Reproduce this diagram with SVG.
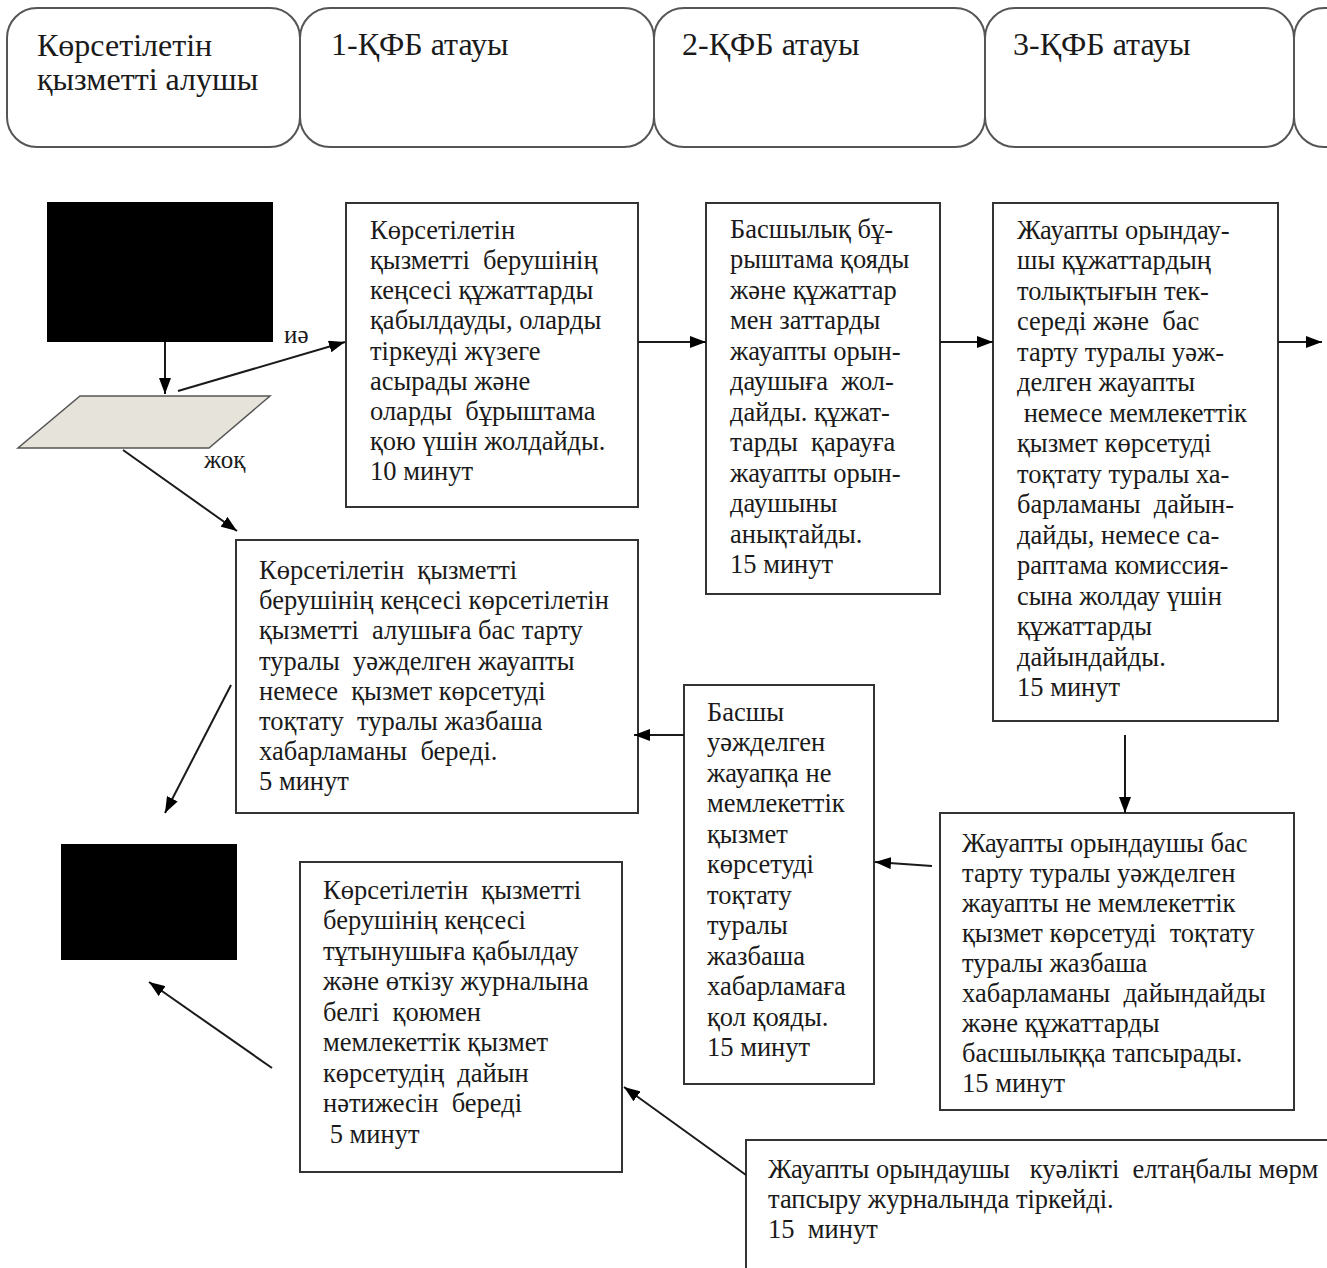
<svg xmlns="http://www.w3.org/2000/svg" width="1327" height="1268" viewBox="0 0 1327 1268">
  <style>
    .lane { fill: #ffffff; stroke: #555555; stroke-width: 2; }
    .box { fill: #ffffff; stroke: #333333; stroke-width: 2; }
    .term { fill: #000000; }
    .decision { fill: #e6e4da; stroke: #555555; stroke-width: 1.5; }
    .hdr { font-family: "Liberation Serif", "DejaVu Serif", serif; font-size: 32px; fill: #1a1a1a; }
    .t { font-family: "Liberation Serif", "DejaVu Serif", serif; font-size: 26.5px; fill: #1a1a1a; white-space: pre; }
    .lbl { font-family: "Liberation Serif", "DejaVu Serif", serif; font-size: 25px; fill: #1a1a1a; }
    .conn { fill: none; stroke: #1a1a1a; stroke-width: 2; marker-end: url(#arrow); }
  </style>
  <defs>
    <marker id="arrow" viewBox="0 0 16 12" refX="16" refY="6" markerWidth="16" markerHeight="12" markerUnits="userSpaceOnUse" orient="auto">
      <path d="M0,0 L16,6 L0,12 Z" fill="#000000"/>
    </marker>
  </defs>

  <rect width="1327" height="1268" fill="#ffffff"/>

  <!-- swimlane headers -->
  <g id="lane-recipient">
    <rect class="lane" x="7" y="8" width="293" height="139" rx="30" ry="30"/>
    <text class="hdr" x="37" y="56">Көрсетілетін</text>
    <text class="hdr" x="37" y="90">қызметті алушы</text>
  </g>
  <g id="lane-1">
    <rect class="lane" x="300" y="8" width="354" height="139" rx="30" ry="30"/>
    <text class="hdr" x="331" y="55">1-ҚФБ атауы</text>
  </g>
  <g id="lane-2">
    <rect class="lane" x="654" y="8" width="331" height="139" rx="30" ry="30"/>
    <text class="hdr" x="682" y="55">2-ҚФБ атауы</text>
  </g>
  <g id="lane-3">
    <rect class="lane" x="985" y="8" width="309" height="139" rx="30" ry="30"/>
    <text class="hdr" x="1013" y="55">3-ҚФБ атауы</text>
  </g>
  <g id="lane-4">
    <rect class="lane" x="1294" y="8" width="120" height="139" rx="30" ry="30"/>
  </g>

  <!-- start / end terminals -->
  <g id="start">
    <rect class="term" x="47" y="202" width="226" height="140"/>
  </g>
  <g id="finish">
    <rect class="term" x="61" y="844" width="176" height="116"/>
  </g>

  <!-- decision -->
  <g id="decision">
    <polygon class="decision" points="80,396 270,396 209,448 18,448"/>
  </g>

  <!-- process steps -->
  <g id="step-1">
    <rect class="box" x="346" y="203" width="292" height="304"/>
    <text class="t" x="370" y="239">Көрсетілетін</text>
    <text class="t" x="370" y="269">қызметті  берушінің</text>
    <text class="t" x="370" y="299">кеңсесі құжаттарды</text>
    <text class="t" x="370" y="329">қабылдауды, оларды</text>
    <text class="t" x="370" y="360">тіркеуді жүзеге</text>
    <text class="t" x="370" y="390">асырады және</text>
    <text class="t" x="370" y="420">оларды  бұрыштама</text>
    <text class="t" x="370" y="450">қою үшін жолдайды.</text>
    <text class="t" x="370" y="480">10 минут</text>
  </g>

  <g id="step-2">
    <rect class="box" x="706" y="203" width="234" height="391"/>
    <text class="t" x="730" y="238">Басшылық бұ-</text>
    <text class="t" x="730" y="268">рыштама қояды</text>
    <text class="t" x="730" y="299">және құжаттар</text>
    <text class="t" x="730" y="329">мен заттарды</text>
    <text class="t" x="730" y="360">жауапты орын-</text>
    <text class="t" x="730" y="390">даушыға  жол-</text>
    <text class="t" x="730" y="421">дайды. құжат-</text>
    <text class="t" x="730" y="451">тарды  қарауға</text>
    <text class="t" x="730" y="482">жауапты орын-</text>
    <text class="t" x="730" y="512">даушыны</text>
    <text class="t" x="730" y="543">анықтайды.</text>
    <text class="t" x="730" y="573">15 минут</text>
  </g>

  <g id="step-3">
    <rect class="box" x="993" y="203" width="285" height="518"/>
    <text class="t" x="1017" y="239">Жауапты орындау-</text>
    <text class="t" x="1017" y="269">шы құжаттардың</text>
    <text class="t" x="1017" y="300">толықтығын тек-</text>
    <text class="t" x="1017" y="330">середі және  бас</text>
    <text class="t" x="1017" y="361">тарту туралы уәж-</text>
    <text class="t" x="1017" y="391">делген жауапты</text>
    <text class="t" x="1017" y="422"> немесе мемлекеттік</text>
    <text class="t" x="1017" y="452">қызмет көрсетуді</text>
    <text class="t" x="1017" y="483">тоқтату туралы ха-</text>
    <text class="t" x="1017" y="513">барламаны  дайын-</text>
    <text class="t" x="1017" y="544">дайды, немесе са-</text>
    <text class="t" x="1017" y="574">раптама комиссия-</text>
    <text class="t" x="1017" y="605">сына жолдау үшін</text>
    <text class="t" x="1017" y="635">құжаттарды</text>
    <text class="t" x="1017" y="666">дайындайды.</text>
    <text class="t" x="1017" y="696">15 минут</text>
  </g>

  <g id="step-4">
    <rect class="box" x="940" y="813" width="354" height="297"/>
    <text class="t" x="962" y="852">Жауапты орындаушы бас</text>
    <text class="t" x="962" y="882">тарту туралы уәжделген</text>
    <text class="t" x="962" y="912">жауапты не мемлекеттік</text>
    <text class="t" x="962" y="942">қызмет көрсетуді  тоқтату</text>
    <text class="t" x="962" y="972">туралы жазбаша</text>
    <text class="t" x="962" y="1002">хабарламаны  дайындайды</text>
    <text class="t" x="962" y="1032">және құжаттарды</text>
    <text class="t" x="962" y="1062">басшылыққа тапсырады.</text>
    <text class="t" x="962" y="1092">15 минут</text>
  </g>

  <g id="step-5">
    <rect class="box" x="684" y="685" width="190" height="399"/>
    <text class="t" x="707" y="721">Басшы</text>
    <text class="t" x="707" y="751">уәжделген</text>
    <text class="t" x="707" y="782">жауапқа не</text>
    <text class="t" x="707" y="812">мемлекеттік</text>
    <text class="t" x="707" y="843">қызмет</text>
    <text class="t" x="707" y="873">көрсетуді</text>
    <text class="t" x="707" y="904">тоқтату</text>
    <text class="t" x="707" y="934">туралы</text>
    <text class="t" x="707" y="965">жазбаша</text>
    <text class="t" x="707" y="995">хабарламаға</text>
    <text class="t" x="707" y="1026">қол қояды.</text>
    <text class="t" x="707" y="1056">15 минут</text>
  </g>

  <g id="step-refusal">
    <rect class="box" x="236" y="540" width="402" height="273"/>
    <text class="t" x="259" y="579">Көрсетілетін  қызметті</text>
    <text class="t" x="259" y="609">берушінің кеңсесі көрсетілетін</text>
    <text class="t" x="259" y="639">қызметті  алушыға бас тарту</text>
    <text class="t" x="259" y="670">туралы  уәжделген жауапты</text>
    <text class="t" x="259" y="700">немесе  қызмет көрсетуді</text>
    <text class="t" x="259" y="730">тоқтату  туралы жазбаша</text>
    <text class="t" x="259" y="760">хабарламаны  береді.</text>
    <text class="t" x="259" y="790">5 минут</text>
  </g>

  <g id="step-issue">
    <rect class="box" x="300" y="862" width="322" height="310"/>
    <text class="t" x="323" y="899">Көрсетілетін  қызметті</text>
    <text class="t" x="323" y="929">берушінің кеңсесі</text>
    <text class="t" x="323" y="960">тұтынушыға қабылдау</text>
    <text class="t" x="323" y="990">және өткізу журналына</text>
    <text class="t" x="323" y="1021">белгі  қоюмен</text>
    <text class="t" x="323" y="1051">мемлекеттік қызмет</text>
    <text class="t" x="323" y="1082">көрсетудің  дайын</text>
    <text class="t" x="323" y="1112">нәтижесін  береді</text>
    <text class="t" x="323" y="1143"> 5 минут</text>
  </g>

  <g id="step-register">
    <rect class="box" x="746" y="1140" width="640" height="160"/>
    <text class="t" x="768" y="1178">Жауапты орындаушы   куәлікті  елтаңбалы мөрм</text>
    <text class="t" x="768" y="1208">тапсыру журналында тіркейді.</text>
    <text class="t" x="768" y="1238">15  минут</text>
  </g>

  <!-- connectors -->
  <g id="connectors">
    <line class="conn" x1="165" y1="342" x2="165" y2="394"/>
    <line class="conn" x1="178" y1="391" x2="345" y2="342"/>
    <line class="conn" x1="123" y1="450" x2="237" y2="531"/>
    <line class="conn" x1="638" y1="342" x2="706" y2="342"/>
    <line class="conn" x1="940" y1="342" x2="993" y2="342"/>
    <line class="conn" x1="1278" y1="342" x2="1322" y2="342"/>
    <line class="conn" x1="1125" y1="735" x2="1125" y2="813"/>
    <line class="conn" x1="932" y1="866" x2="875" y2="862"/>
    <line class="conn" x1="684" y1="735" x2="634" y2="735"/>
    <line class="conn" x1="231" y1="685" x2="165" y2="813"/>
    <line class="conn" x1="272" y1="1068" x2="149" y2="982"/>
    <line class="conn" x1="746" y1="1175" x2="624" y2="1087"/>
    <text class="lbl" x="284" y="343">иә</text>
    <text class="lbl" x="204" y="468">жоқ</text>
  </g>
</svg>
